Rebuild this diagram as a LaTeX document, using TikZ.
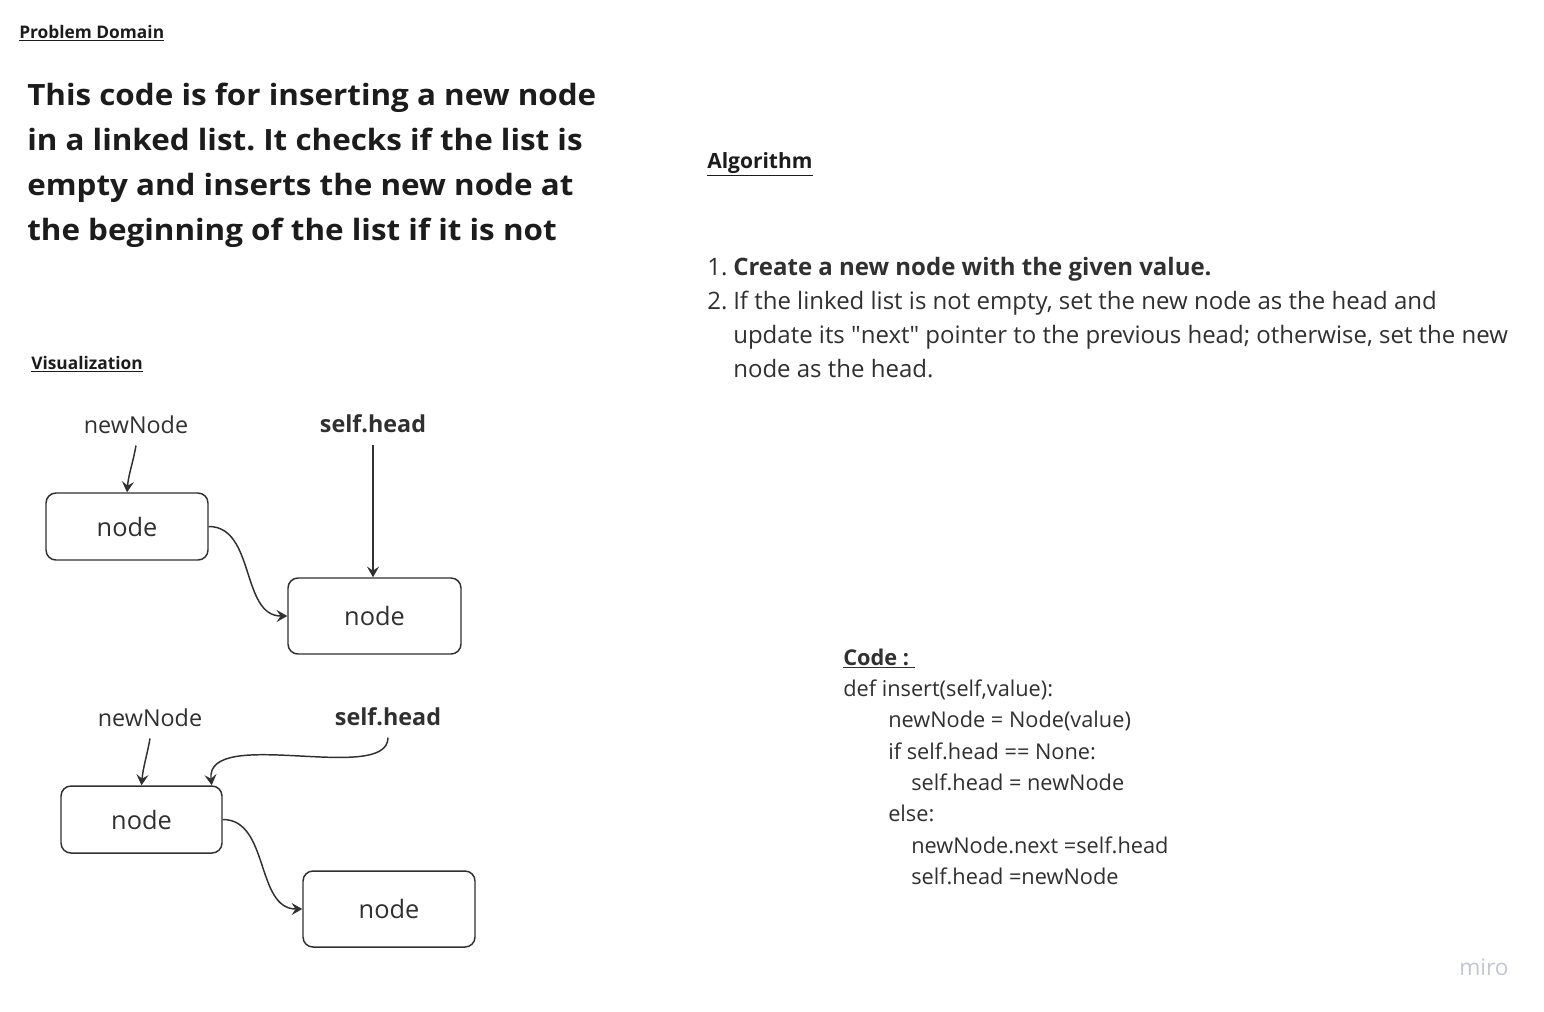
\documentclass[tikz,border=0pt]{standalone}
\usepackage{fontspec}
\setmainfont{Open Sans}
\newfontfamily\widefont{Open Sans}[FakeStretch=1.07]
\usetikzlibrary{arrows.meta}
\frenchspacing
\definecolor{ink}{HTML}{1C1C1C}
\definecolor{soft}{HTML}{303030}
\definecolor{mirogray}{HTML}{C4C6CF}
\tikzset{
    heading/.style={anchor=base west, inner sep=0pt, text=ink, font=\bfseries\fontsize{13}{16}\selectfont},
    ptr/.style={anchor=base, inner xsep=0pt, inner ysep=9pt, text=soft, font=\fontsize{17.5}{21}\selectfont},
    listbox/.style={draw=soft, line width=1.1pt, rounded corners=7.5pt, text=soft, font=\fontsize{19}{23}\selectfont},
    link/.style={draw=soft, line width=1.1pt, -{Stealth[length=8pt,width=9pt,inset=3pt]}},
}
\begin{document}
\begin{tikzpicture}[x=0.75pt, y=-0.75pt]
        \fill[white] (0,0) rectangle (1544,1011);
        \useasboundingbox (0,0) rectangle (1544,1011);

        \node[heading] (probhead) at (19,38) {\underline{Problem Domain}};
        \node[anchor=base west, inner sep=0pt, text=ink,
              font=\widefont\bfseries\fontsize{22}{33.75}\selectfont] (problem) at (27,105)
            {\begin{tabular}[t]{@{}l@{}}
             This code is for inserting a new node\\
             in a linked list. It checks if the list is\\
             empty and inserts the new node at\\
             the beginning of the list if it is not
             \end{tabular}};

        \node[heading, font=\bfseries\fontsize{15.75}{19}\selectfont] (alghead) at (707,168) {\underline{Algorithm}};
        \node[anchor=base west, inner sep=0pt, text=soft, font=\fontsize{18}{25.5}\selectfont] (algo) at (707,275)
            {\begin{tabular}[t]{@{}p{19.5pt}@{}l@{}}
             1. & \textbf{Create a new node with the given value.}\\
             2. & If the linked list is not empty, set the new node as the head and\\
                & update its \textquotedbl next\textquotedbl{} pointer to the previous head; otherwise, set the new\\
                & node as the head.
             \end{tabular}};

        \node[heading] (vizhead) at (31,369) {\underline{Visualization}};

        \node[ptr] (new1) at (136,433) {newNode};
        \node[ptr, font=\bfseries\fontsize{17.5}{21}\selectfont] (head1) at (373,432) {self.head};
        \node[listbox, minimum width=121.5pt, minimum height=50.25pt] (box1) at (127,526.5) {node};
        \node[listbox, minimum width=129.75pt, minimum height=57pt] (box2) at (374.5,616) {node};
        \draw[link] (new1.south) to[out=-100, in=85] (box1.north);
        \draw[link] (head1.south) -- (head1.south |- box2.north);
        \draw[link] (box1.east) to[out=0, in=180] (box2.west);

        \node[ptr] (new2) at (150,726) {newNode};
        \node[ptr, font=\bfseries\fontsize{17.5}{21}\selectfont] (head2) at (388,725) {self.head};
        \node[listbox, minimum width=120.75pt, minimum height=50.25pt] (box3) at (141.5,819.5) {node};
        \node[listbox, minimum width=129pt, minimum height=57pt] (box4) at (389,909) {node};
        \draw[link] (new2.south) to[out=-100, in=85] (box3.north);
        \draw[link] (head2.south) .. controls (388,785) and (205,725) .. (box3.26);
        \draw[link] (box3.east) to[out=0, in=180] (box4.west);

        \node[anchor=base west, inner sep=0pt, text=soft, font=\fontsize{16.3}{23.5}\selectfont] (code) at (843,665)
            {\begin{tabular}[t]{@{}l@{}}
             \textbf{\underline{Code :\ }}\\
             def insert(self,value):\\
             \hspace*{33.75pt}newNode = Node(value)\\
             \hspace*{33.75pt}if self.head == None:\\
             \hspace*{51pt}self.head = newNode\\
             \hspace*{33.75pt}else:\\
             \hspace*{51pt}newNode.next =self.head\\
             \hspace*{51pt}self.head =newNode
             \end{tabular}};

        \node[text=mirogray, font=\fontsize{17}{20}\selectfont] (miro) at (1484,967) {miro};
    \end{tikzpicture}
\end{document}
